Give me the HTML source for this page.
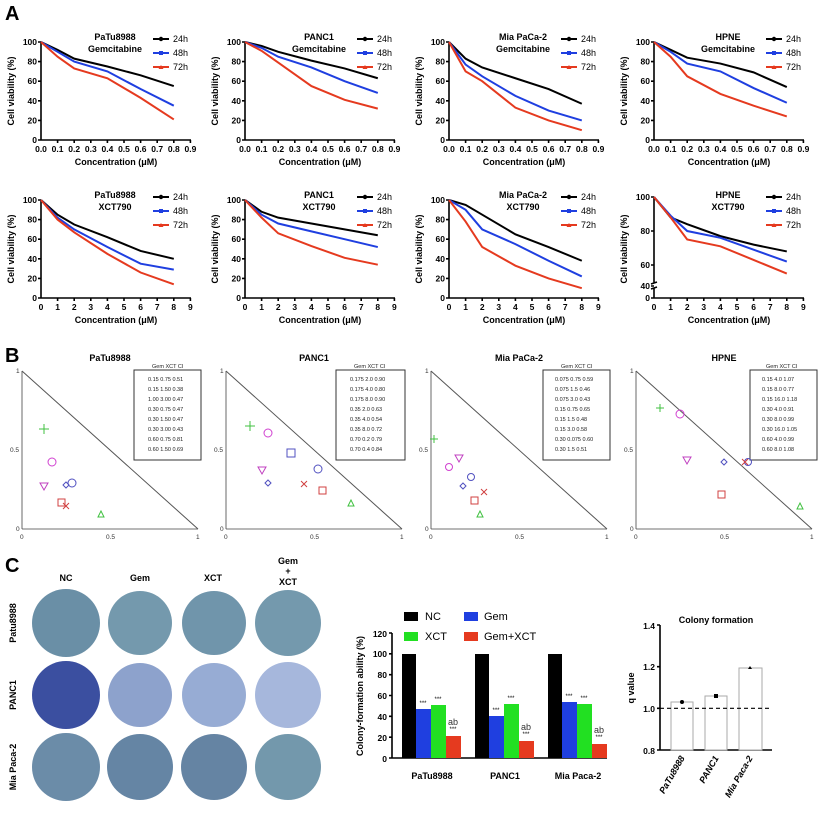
<!DOCTYPE html>
<html><head><meta charset="utf-8"><style>
html,body{margin:0;padding:0;background:#fff}
svg{display:block;font-family:"Liberation Sans",Arial,sans-serif}
.ax{stroke:#000;stroke-width:1.6;fill:none}
.tl{font-size:8.5px;font-weight:bold}
.t{font-size:9px;font-weight:bold}
.s{vector-effect:non-scaling-stroke;fill:none;stroke-width:2}
</style></head><body>
<svg width="824" height="824" viewBox="0 0 824 824">
<defs>
<g id="ylab"><text class="t" transform="translate(-27,-49) rotate(-90)" text-anchor="middle" font-size="10">Cell viability (%)</text>
<text class="t" x="75" y="25" text-anchor="middle" font-size="8">Concentration (μM)</text></g>
<g id="yax"><path class="ax" d="M0,0V-98M-3,0H0M-3,-19.6H0M-3,-39.2H0M-3,-58.8H0M-3,-78.4H0M-3,-98H0"/>
<g class="tl" text-anchor="end"><text x="-4" y="3">0</text><text x="-4" y="-16.6">20</text><text x="-4" y="-36.2">40</text><text x="-4" y="-55.8">60</text><text x="-4" y="-75.4">80</text><text x="-4" y="-95">100</text></g>
<use href="#ylab"/></g>
<g id="xt"><path class="ax" d="M0,0H150M16.6,0v3M33.2,0v3M49.8,0v3M66.4,0v3M83,0v3M99.6,0v3M116.2,0v3M132.8,0v3M149.4,0v3"/></g>
<g id="xl1" class="tl" text-anchor="middle"><text x="0" y="12">0.0</text><text x="16.6" y="12">0.1</text><text x="33.2" y="12">0.2</text><text x="49.8" y="12">0.3</text><text x="66.4" y="12">0.4</text><text x="83" y="12">0.5</text><text x="99.6" y="12">0.6</text><text x="116.2" y="12">0.7</text><text x="132.8" y="12">0.8</text><text x="149.4" y="12">0.9</text></g>
<g id="xl2" class="tl" text-anchor="middle"><text x="0" y="12">0</text><text x="16.6" y="12">1</text><text x="33.2" y="12">2</text><text x="49.8" y="12">3</text><text x="66.4" y="12">4</text><text x="83" y="12">5</text><text x="99.6" y="12">6</text><text x="116.2" y="12">7</text><text x="132.8" y="12">8</text><text x="149.4" y="12">9</text></g>
<g id="leg" font-size="9"><path d="M112,-101h16" stroke="#000" stroke-width="2"/><path d="M112,-87h16" stroke="#1f3fe0" stroke-width="2"/><path d="M112,-73h16" stroke="#e53a1f" stroke-width="2"/><circle cx="120" cy="-101" r="2.2"/><rect x="118" y="-89" width="4" height="4" fill="#1f3fe0"/><path d="M117.5,-71l2.5,-4l2.5,4z" fill="#e53a1f"/><text x="132" y="-98">24h</text><text x="132" y="-84">48h</text><text x="132" y="-70">72h</text></g>
<g id="bax"><path d="M0,0V-158H0M0,0H176" stroke="#444" stroke-width="0.8" fill="none"/><path d="M0,-158L176,0" stroke="#555" stroke-width="1"/><g font-size="6.5" fill="#333"><text x="-6" y="2">0</text><text x="-12" y="-77">0.5</text><text x="-6" y="-156">1</text><text x="-2" y="10">0</text><text x="84" y="10">0.5</text><text x="174" y="10">1</text></g></g>
</defs>
<text x="5" y="20" font-size="20" font-weight="bold">A</text>
<!-- Row 1 -->
<g transform="translate(41,140)"><use href="#yax"/><use href="#xt"/><use href="#xl1"/><use href="#leg"/>
<text class="t" x="74" y="-100" text-anchor="middle">PaTu8988</text><text class="t" x="74" y="-88" text-anchor="middle">Gemcitabine</text>
<g transform="scale(16.6,-0.98)"><polyline class="s" stroke="#000" points="0,100 1,92 2,83 4,75 6,66 8,55"/><polyline class="s" stroke="#1f3fe0" points="0,100 1,90 2,80 4,70 6,52 8,35"/><polyline class="s" stroke="#e53a1f" points="0,100 1,85 2,73 4,63 6,43 8,21"/></g></g>
<g transform="translate(245,140)"><use href="#yax"/><use href="#xt"/><use href="#xl1"/><use href="#leg"/>
<text class="t" x="74" y="-100" text-anchor="middle">PANC1</text><text class="t" x="74" y="-88" text-anchor="middle">Gemcitabine</text>
<g transform="scale(16.6,-0.98)"><polyline class="s" stroke="#000" points="0,100 1,96 2,90 4,81 6,73 8,63"/><polyline class="s" stroke="#1f3fe0" points="0,100 1,94 2,85 4,74 6,60 8,48"/><polyline class="s" stroke="#e53a1f" points="0,100 1,91 2,79 4,55 6,41 8,32"/></g></g>
<g transform="translate(449,140)"><use href="#yax"/><use href="#xt"/><use href="#xl1"/><use href="#leg"/>
<text class="t" x="74" y="-100" text-anchor="middle">Mia PaCa-2</text><text class="t" x="74" y="-88" text-anchor="middle">Gemcitabine</text>
<g transform="scale(16.6,-0.98)"><polyline class="s" stroke="#000" points="0,100 1,83 2,74 4,63 6,52 8,37"/><polyline class="s" stroke="#1f3fe0" points="0,100 1,77 2,65 4,45 6,30 8,20"/><polyline class="s" stroke="#e53a1f" points="0,100 1,70 2,60 4,33 6,20 8,10"/></g></g>
<g transform="translate(654,140)"><use href="#yax"/><use href="#xt"/><use href="#xl1"/><use href="#leg"/>
<text class="t" x="74" y="-100" text-anchor="middle">HPNE</text><text class="t" x="74" y="-88" text-anchor="middle">Gemcitabine</text>
<g transform="scale(16.6,-0.98)"><polyline class="s" stroke="#000" points="0,100 1,92 2,84 4,78 6,69 8,54"/><polyline class="s" stroke="#1f3fe0" points="0,100 1,90 2,78 4,70 6,53 8,38"/><polyline class="s" stroke="#e53a1f" points="0,100 1,85 2,65 4,47 6,35 8,24"/></g></g>
<!-- Row 2 -->
<g transform="translate(41,298)"><use href="#yax"/><use href="#xt"/><use href="#xl2"/><use href="#leg"/>
<text class="t" x="74" y="-100" text-anchor="middle">PaTu8988</text><text class="t" x="74" y="-88" text-anchor="middle">XCT790</text>
<g transform="scale(16.6,-0.98)"><polyline class="s" stroke="#000" points="0,100 1,85 2,75 4,62 6,48 8,40"/><polyline class="s" stroke="#1f3fe0" points="0,100 1,82 2,70 4,52 6,35 8,29"/><polyline class="s" stroke="#e53a1f" points="0,100 1,80 2,67 4,45 6,26 8,14"/></g></g>
<g transform="translate(245,298)"><use href="#yax"/><use href="#xt"/><use href="#xl2"/><use href="#leg"/>
<text class="t" x="74" y="-100" text-anchor="middle">PANC1</text><text class="t" x="74" y="-88" text-anchor="middle">XCT790</text>
<g transform="scale(16.6,-0.98)"><polyline class="s" stroke="#000" points="0,100 1,88 2,82 4,76 6,70 8,64"/><polyline class="s" stroke="#1f3fe0" points="0,100 1,85 2,76 4,68 6,60 8,52"/><polyline class="s" stroke="#e53a1f" points="0,100 1,82 2,66 4,53 6,41 8,34"/></g></g>
<g transform="translate(449,298)"><use href="#yax"/><use href="#xt"/><use href="#xl2"/><use href="#leg"/>
<text class="t" x="74" y="-100" text-anchor="middle">Mia PaCa-2</text><text class="t" x="74" y="-88" text-anchor="middle">XCT790</text>
<g transform="scale(16.6,-0.98)"><polyline class="s" stroke="#000" points="0,100 1,95 2,85 4,65 6,52 8,38"/><polyline class="s" stroke="#1f3fe0" points="0,100 1,90 2,70 4,55 6,38 8,22"/><polyline class="s" stroke="#e53a1f" points="0,100 1,78 2,52 4,33 6,20 8,10"/></g></g>
<g transform="translate(654,298)"><use href="#ylab"/><use href="#xt"/><use href="#xl2"/><use href="#leg"/>
<path class="ax" d="M0,0V-10M0,-15V-100M-3,0H0M-3,-12H0M-3,-33H0M-3,-67H0M-3,-101H0M-3,-9l6,-2M-3,-14l6,-2"/>
<g class="tl" text-anchor="end"><text x="-4" y="3">0</text><text x="-4" y="-9">40</text><text x="-4" y="-30">60</text><text x="-4" y="-64">80</text><text x="-4" y="-98">100</text></g>
<text class="t" x="74" y="-100" text-anchor="middle">HPNE</text><text class="t" x="74" y="-88" text-anchor="middle">XCT790</text>
<g transform="scale(16.6,-1.7) translate(0,-40.6)"><polyline class="s" stroke="#000" points="0,100 1,88 2,84 4,77 6,72 8,68"/><polyline class="s" stroke="#1f3fe0" points="0,100 1,89 2,80 4,76 6,69 8,62"/><polyline class="s" stroke="#e53a1f" points="0,100 1,88 2,75 4,71 6,63 8,55"/></g></g>

<!-- B -->
<text x="5" y="362" font-size="20" font-weight="bold">B</text>
<g fill="none" stroke-width="1">
<g transform="translate(22,529)"><use href="#bax"/><text x="88" y="-168" class="t" fill="#000" stroke="none" text-anchor="middle">PaTu8988</text>
<rect x="112" y="-159" width="67" height="90" stroke="#333" fill="#fff"/>
<g font-size="5.5" fill="#222" stroke="none"><text x="130" y="-161">Gem  XCT    CI</text>
<text x="126" y="-148">0.15  0.75  0.51</text><text x="126" y="-138">0.15  1.50  0.38</text><text x="126" y="-128">1.00  3.00  0.47</text><text x="126" y="-118">0.30  0.75  0.47</text><text x="126" y="-108">0.30  1.50  0.47</text><text x="126" y="-98">0.30  3.00  0.43</text><text x="126" y="-88">0.60  0.75  0.81</text><text x="126" y="-78">0.60  1.50  0.69</text></g>
<circle cx="50" cy="-46" r="4" stroke="#5050c0"/><rect x="36" y="-30" width="7" height="7" stroke="#d04040"/><path d="M76,-12l3,-6l3,6z" stroke="#40c040"/><path d="M18,-46h8l-4,7z" stroke="#c040c0"/><path d="M44,-47l3,3l-3,3l-3,-3z" stroke="#5050c0"/><path d="M41,-26l6,6M47,-26l-6,6" stroke="#d04040"/><path d="M22,-105v10M17,-100h10" stroke="#40c040"/><circle cx="30" cy="-67" r="4" stroke="#d040d0"/></g>
<g transform="translate(226,529)"><use href="#bax"/><text x="88" y="-168" class="t" fill="#000" stroke="none" text-anchor="middle">PANC1</text>
<rect x="110" y="-159" width="69" height="90" stroke="#333" fill="#fff"/>
<g font-size="5.5" fill="#222" stroke="none"><text x="128" y="-161">Gem  XCT   CI</text>
<text x="124" y="-148">0.175  2.0  0.90</text><text x="124" y="-138">0.175  4.0  0.80</text><text x="124" y="-128">0.175  8.0  0.90</text><text x="124" y="-118">0.35   2.0  0.63</text><text x="124" y="-108">0.35   4.0  0.54</text><text x="124" y="-98">0.35   8.0  0.72</text><text x="124" y="-88">0.70   0.2  0.79</text><text x="124" y="-78">0.70   0.4  0.84</text></g>
<circle cx="92" cy="-60" r="4" stroke="#5050c0"/><rect x="61" y="-80" width="8" height="8" stroke="#5050c0"/><rect x="93" y="-42" width="7" height="7" stroke="#d04040"/><path d="M122,-23l3,-6l3,6z" stroke="#40c040"/><path d="M32,-62h8l-4,7z" stroke="#c040c0"/><path d="M42,-49l3,3l-3,3l-3,-3z" stroke="#5050c0"/><path d="M75,-48l6,6M81,-48l-6,6" stroke="#d04040"/><path d="M24,-108v10M19,-103h10" stroke="#40c040"/><circle cx="42" cy="-96" r="4" stroke="#d040d0"/></g>
<g transform="translate(431,529)"><use href="#bax"/><text x="88" y="-168" class="t" fill="#000" stroke="none" text-anchor="middle">Mia PaCa-2</text>
<rect x="112" y="-159" width="67" height="90" stroke="#333" fill="#fff"/>
<g font-size="5.5" fill="#222" stroke="none"><text x="130" y="-161">Gem  XCT    CI</text>
<text x="124" y="-148">0.075  0.75  0.59</text><text x="124" y="-138">0.075  1.5   0.46</text><text x="124" y="-128">0.075  3.0   0.43</text><text x="124" y="-118">0.15   0.75  0.65</text><text x="124" y="-108">0.15   1.5   0.48</text><text x="124" y="-98">0.15   3.0   0.58</text><text x="124" y="-88">0.30   0.075 0.60</text><text x="124" y="-78">0.30   1.5   0.51</text></g>
<circle cx="40" cy="-52" r="3.5" stroke="#5050c0"/><rect x="40" y="-32" width="7" height="7" stroke="#d04040"/><path d="M46,-12l3,-6l3,6z" stroke="#40c040"/><path d="M24,-74h8l-4,7z" stroke="#c040c0"/><path d="M32,-46l3,3l-3,3l-3,-3z" stroke="#5050c0"/><path d="M50,-40l6,6M56,-40l-6,6" stroke="#d04040"/><path d="M3,-94v8M-1,-90h8" stroke="#40c040"/><circle cx="18" cy="-62" r="3.5" stroke="#d040d0"/></g>
<g transform="translate(636,529)"><use href="#bax"/><text x="88" y="-168" class="t" fill="#000" stroke="none" text-anchor="middle">HPNE</text>
<rect x="114" y="-159" width="67" height="90" stroke="#333" fill="#fff"/>
<g font-size="5.5" fill="#222" stroke="none"><text x="130" y="-161">Gem  XCT    CI</text>
<text x="126" y="-148">0.15  4.0   1.07</text><text x="126" y="-138">0.15  8.0   0.77</text><text x="126" y="-128">0.15  16.0  1.18</text><text x="126" y="-118">0.30  4.0   0.91</text><text x="126" y="-108">0.30  8.0   0.99</text><text x="126" y="-98">0.30  16.0  1.05</text><text x="126" y="-88">0.60  4.0   0.99</text><text x="126" y="-78">0.60  8.0   1.08</text></g>
<circle cx="112" cy="-67" r="3.5" stroke="#5050c0"/><rect x="82" y="-38" width="7" height="7" stroke="#d04040"/><path d="M161,-20l3,-6l3,6z" stroke="#40c040"/><path d="M47,-72h8l-4,7z" stroke="#c040c0"/><path d="M88,-70l3,3l-3,3l-3,-3z" stroke="#5050c0"/><path d="M106,-70l6,6M112,-70l-6,6" stroke="#d04040"/><path d="M24,-125v8M20,-121h8" stroke="#40c040"/><circle cx="44" cy="-115" r="4" stroke="#d040d0"/></g>
</g>

<!-- C -->
<text x="5" y="572" font-size="20" font-weight="bold">C</text>
<g class="t" font-size="10" text-anchor="middle"><text x="66" y="581">NC</text><text x="140" y="581">Gem</text><text x="213" y="581">XCT</text><text x="288" y="564">Gem</text><text x="288" y="574">+</text><text x="288" y="585">XCT</text>
<text transform="translate(16,623) rotate(-90)">Patu8988</text><text transform="translate(16,695) rotate(-90)">PANC1</text><text transform="translate(16,767) rotate(-90)">Mia Paca-2</text></g>
<g stroke="none">
<circle cx="66" cy="623" r="34" fill="#6a8fa6"/><circle cx="140" cy="623" r="32" fill="#7499ad"/><circle cx="214" cy="623" r="32" fill="#7095ab"/><circle cx="288" cy="623" r="33" fill="#7499ad"/>
<circle cx="66" cy="695" r="34" fill="#3b4fa0"/><circle cx="140" cy="695" r="32" fill="#8da2cc"/><circle cx="214" cy="695" r="32" fill="#97acd4"/><circle cx="288" cy="695" r="33" fill="#a6b7dc"/>
<circle cx="66" cy="767" r="34" fill="#6b8ca8"/><circle cx="140" cy="767" r="33" fill="#6585a4"/><circle cx="214" cy="767" r="33" fill="#6584a3"/><circle cx="288" cy="767" r="33" fill="#7398ac"/></g>
<!-- bar chart -->
<g>
<rect x="404" y="612" width="14" height="9"/><text x="425" y="620" font-size="11">NC</text><rect x="464" y="612" width="14" height="9" fill="#1f3fe0"/><text x="484" y="620" font-size="11">Gem</text>
<rect x="404" y="632" width="14" height="9" fill="#22e022"/><text x="425" y="640" font-size="11">XCT</text><rect x="464" y="632" width="14" height="9" fill="#e53a1f"/><text x="484" y="640" font-size="11">Gem+XCT</text>
<path class="ax" d="M392,633V758H607M389,758h3M389,737.2h3M389,716.3h3M389,695.5h3M389,674.7h3M389,653.8h3M389,633h3"/>
<g class="tl" text-anchor="end" font-size="10"><text x="387" y="762">0</text><text x="387" y="741">20</text><text x="387" y="720">40</text><text x="387" y="699">60</text><text x="387" y="678">80</text><text x="387" y="657">100</text><text x="387" y="637">120</text></g>
<text class="t" transform="translate(363,696) rotate(-90)" text-anchor="middle" font-size="10">Colony-formation ability (%)</text>
<g transform="translate(402,0)"><rect x="0" y="654" width="14" height="104"/><rect x="14" y="709" width="15" height="49" fill="#1f3fe0"/><rect x="29" y="705" width="15" height="53" fill="#22e022"/><rect x="44" y="736" width="15" height="22" fill="#e53a1f"/>
<g font-size="6" text-anchor="middle"><text x="21" y="705">***</text><text x="36" y="701">***</text><text x="51" y="731">***</text></g><text x="51" y="725" font-size="9" text-anchor="middle" fill="#333">ab</text></g>
<g transform="translate(475,0)"><rect x="0" y="654" width="14" height="104"/><rect x="14" y="716" width="15" height="42" fill="#1f3fe0"/><rect x="29" y="704" width="15" height="54" fill="#22e022"/><rect x="44" y="741" width="15" height="17" fill="#e53a1f"/>
<g font-size="6" text-anchor="middle"><text x="21" y="712">***</text><text x="36" y="700">***</text><text x="51" y="736">***</text></g><text x="51" y="730" font-size="9" text-anchor="middle" fill="#333">ab</text></g>
<g transform="translate(548,0)"><rect x="0" y="654" width="14" height="104"/><rect x="14" y="702" width="15" height="56" fill="#1f3fe0"/><rect x="29" y="704" width="15" height="54" fill="#22e022"/><rect x="44" y="744" width="15" height="14" fill="#e53a1f"/>
<g font-size="6" text-anchor="middle"><text x="21" y="698">***</text><text x="36" y="700">***</text><text x="51" y="739">***</text></g><text x="51" y="733" font-size="9" text-anchor="middle" fill="#333">ab</text></g>
<g class="t" font-size="11" text-anchor="middle"><text x="432" y="779">PaTu8988</text><text x="505" y="779">PANC1</text><text x="578" y="779">Mia Paca-2</text></g>
</g>
<!-- q value -->
<g>
<text x="716" y="623" class="t" text-anchor="middle" font-size="10">Colony formation</text>
<path class="ax" d="M660,625V750H772M657,625h3M657,666.7h3M657,708.3h3M657,750h3"/>
<g class="tl" text-anchor="end" font-size="10"><text x="655" y="629">1.4</text><text x="655" y="670">1.2</text><text x="655" y="712">1.0</text><text x="655" y="754">0.8</text></g>
<text class="t" transform="translate(634,688) rotate(-90)" text-anchor="middle" font-size="10">q value</text>
<g fill="#fff" stroke="#aaa" stroke-width="1"><rect x="671" y="702" width="22" height="48"/><rect x="705" y="696" width="22" height="54"/><rect x="739" y="668" width="23" height="82"/></g>
<path d="M660,708.3H772" stroke="#000" stroke-width="1.2" stroke-dasharray="4,3"/>
<circle cx="682" cy="702" r="2"/><rect x="714" y="694" width="4" height="4"/><path d="M748,669l2,-3l2,3z"/>
<g class="t" font-size="10" font-style="italic" text-anchor="end"><text transform="translate(685,758) rotate(-60)">PaTu8988</text><text transform="translate(719,758) rotate(-60)">PANC1</text><text transform="translate(753,758) rotate(-60)">Mia Paca-2</text></g>
</g>
</svg>
</body></html>
